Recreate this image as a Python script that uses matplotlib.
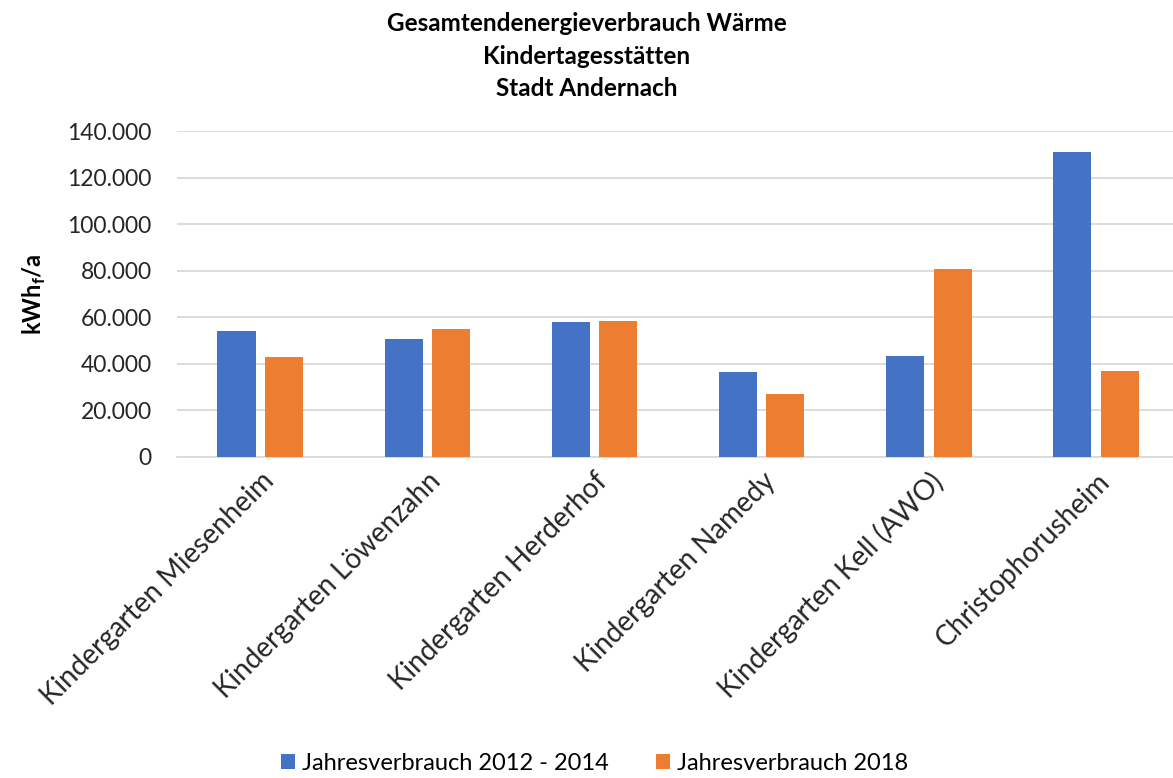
import matplotlib
matplotlib.use('Agg')
import matplotlib.pyplot as plt
import matplotlib.ticker as mticker
import numpy as np

# --- DATA ---
categories = ['Kindergarten Miesenheim', 'Kindergarten Löwenzahn', 'Kindergarten Herderhof',
              'Kindergarten Namedy', 'Kindergarten Kell (AWO)', 'Christophorusheim']
verbrauch_2012_2014 = [54100, 50600, 57800, 36400, 43400, 131200]
verbrauch_2018 = [43100, 54900, 58300, 27200, 80800, 37100]
series_labels = ['Jahresverbrauch 2012 - 2014', 'Jahresverbrauch 2018']
y_ticks = [0, 20000, 40000, 60000, 80000, 100000, 120000, 140000]

# --- STYLE ---
BLUE = '#4472C4'
ORANGE = '#ED7D31'
GRID = '#D9D9D9'
plt.rcParams['font.family'] = ['Lato', 'DejaVu Sans']

fig = plt.figure(figsize=(11.73, 7.78), dpi=100)
ax = fig.add_axes([0.1506, 0.4126, 0.855, 0.419])

x = np.arange(len(categories))
w = 0.228
ax.bar(x - 0.142, verbrauch_2012_2014, width=w, color=BLUE, label=series_labels[0], zorder=3)
ax.bar(x + 0.142, verbrauch_2018, width=w, color=ORANGE, label=series_labels[1], zorder=3)

ax.set_xlim(-0.5, len(categories) - 0.5)
ax.set_ylim(0, 140000)
ax.set_yticks(y_ticks)
ax.yaxis.set_major_formatter(mticker.FuncFormatter(lambda v, p: f"{int(v):,}".replace(',', '.')))
ax.grid(axis='y', color=GRID, linewidth=1.3, zorder=0)
for s in ['top', 'right', 'left']:
    ax.spines[s].set_visible(False)
ax.spines['bottom'].set_color(GRID)
ax.spines['bottom'].set_linewidth(1.3)
ax.tick_params(axis='both', length=0, colors='#262626')
ax.tick_params(axis='y', labelsize=16.5, pad=18)

ax.set_xticks(x)
ax.set_xticklabels(categories, rotation=45, ha='right', rotation_mode='anchor')
ax.tick_params(axis='x', labelsize=20, pad=8)

ax.set_ylabel('kWh$_\\mathregular{f}$/a', fontsize=17, fontweight='bold', labelpad=14)

fig.text(0.5, 0.985, 'Gesamtendenergieverbrauch Wärme\nKindertagesstätten\nStadt Andernach',
         ha='center', va='top', fontsize=17.5, fontweight='bold', linespacing=1.52)

fig.legend(loc='center', bbox_to_anchor=(0.507, 0.019), ncol=2, frameon=False, fontsize=17,
           handlelength=0.6, handleheight=0.6, handletextpad=0.3, columnspacing=2.0)

fig.savefig('out.png', dpi=100)
